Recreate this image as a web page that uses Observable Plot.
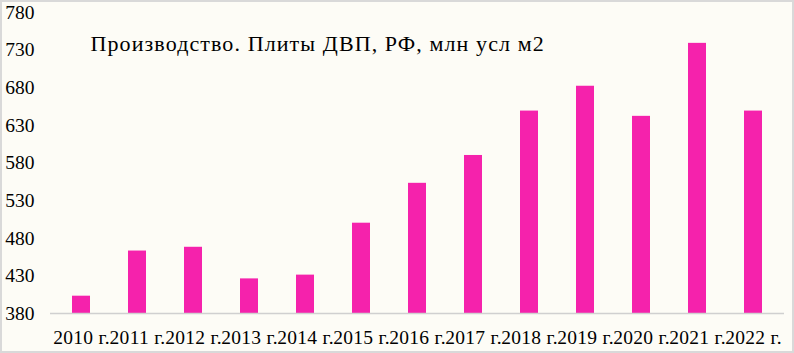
<!DOCTYPE html>
<html>
<head>
<meta charset="utf-8">
<script src="https://cdn.jsdelivr.net/npm/d3@7"></script>
<script src="https://cdn.jsdelivr.net/npm/@observablehq/plot@0.6"></script>
<style>
  html, body { margin: 0; padding: 0; background: #fdfcf6; }
  #chart svg { display: block; outline: 2px solid #d9d9d9; outline-offset: -2px; font-family: "Liberation Serif", "Times New Roman", serif !important; }
  #chart svg text { font-family: "Liberation Serif", "Times New Roman", serif !important; }
  #chart svg g[aria-label="text"] text { letter-spacing: 1.1px; }
  #chart svg g[aria-label="x-axis tick label"] text { letter-spacing: 0.3px; }
</style>
</head>
<body>
<div id="chart"></div>
<script>
const title = "Производство. Плиты ДВП, РФ, млн усл м2";
const years = ["2010 г.", "2011 г.", "2012 г.", "2013 г.", "2014 г.", "2015 г.", "2016 г.",
               "2017 г.", "2018 г.", "2019 г.", "2020 г.", "2021 г.", "2022 г."];
const values = [403, 463, 468, 426, 431, 500, 553, 590, 649, 682, 642, 739, 649];
const yTicks = [380, 430, 480, 530, 580, 630, 680, 730, 780];

const data = years.map((y, i) => ({ year: y, value: values[i] }));

const chart = Plot.plot({
  width: 794,
  height: 353,
  marginLeft: 50,
  marginRight: 10,
  marginTop: 12,
  marginBottom: 40,
  style: { fontSize: "19.5px", color: "#000", background: "#fdfcf6" },
  x: { domain: years, paddingInner: 0.68, paddingOuter: 0.34, label: null },
  y: { domain: [380, 780], label: null },
  marks: [
    Plot.barY(data, { x: "year", y1: 380, y2: "value", fill: "#f522ac" }),
    Plot.ruleY([380], { stroke: "#d0d0d0", strokeWidth: 1.5 }),
    Plot.axisY({ ticks: yTicks, tickSize: 0, tickPadding: 16, fill: "#000", label: null }),
    Plot.axisX({ tickSize: 0, tickPadding: 17, fill: "#000", label: null }),
    Plot.text([title], { frameAnchor: "top-left", dx: 40, dy: 38, textAnchor: "start", lineAnchor: "bottom", fontSize: 22, fill: "#000" })
  ]
});
document.getElementById("chart").appendChild(chart);
</script>
</body>
</html>
